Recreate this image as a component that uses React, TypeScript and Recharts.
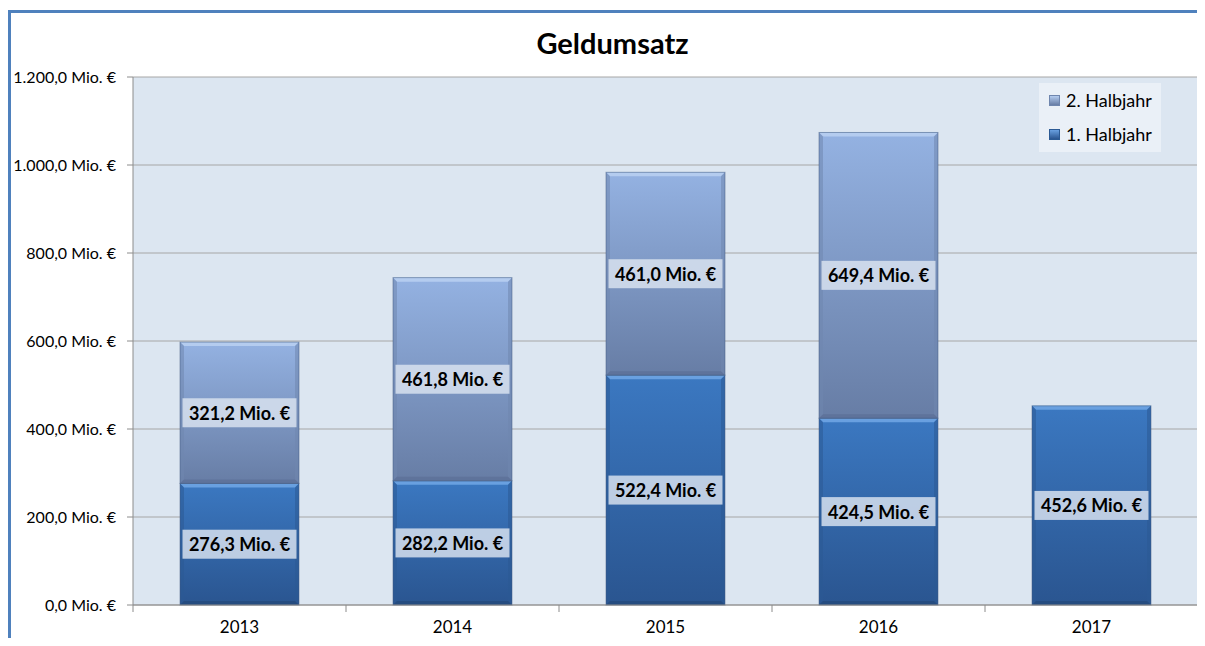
import React from 'react';
import { BarChart, Bar, XAxis, YAxis, CartesianGrid, LabelList } from 'recharts';

const categories = ['2013', '2014', '2015', '2016', '2017'];
const firstHalf = [276.3, 282.2, 522.4, 424.5, 452.6];
const secondHalf: (number | null)[] = [321.2, 461.8, 461.0, 649.4, null];
const yTicks = [0, 200, 400, 600, 800, 1000, 1200];
const seriesNames = ['1. Halbjahr', '2. Halbjahr'];
const titleText = 'Geldumsatz';

const data = categories.map((c, i) => ({ year: c, h1: firstHalf[i], h2: secondHalf[i] }));

const FONT = 'Lato, "Open Sans", sans-serif';

function fmt(v: number): string {
  const fixed = v.toFixed(1);
  const [intPart, dec] = fixed.split('.');
  const withSep = intPart.replace(/\B(?=(\d{3})+(?!\d))/g, '.');
  return `${withSep},${dec} Mio. €`;
}

const palettes: Record<string, { top: string; bottom: string; bevel: string; edge: string; base: string }> = {
  h1: { top: '#3B78C1', bottom: '#2A5590', bevel: '#69A0E0', edge: '#2B5A94', base: '#244A7C' },
  h2: { top: '#94B2E2', bottom: '#677DA5', bevel: '#B4CCEF', edge: '#6F86AE', base: '#5D7198' },
};

const BevelBar = (props: any) => {
  const { x, y, width, height, dataKey } = props;
  if (!height || height <= 0) return null;
  const p = palettes[dataKey];
  const b = 4;
  const id = `grad-${dataKey}`;
  return (
    <g>
      <rect x={x} y={y} width={width} height={height} fill={`url(#${id})`} />
      <polygon
        points={`${x},${y} ${x + width},${y} ${x + width - b},${y + b} ${x + b},${y + b}`}
        fill={p.bevel}
      />
      <polygon
        points={`${x},${y} ${x + b},${y + b} ${x + b},${y + height - b} ${x},${y + height}`}
        fill={p.edge}
        opacity={0.55}
      />
      <polygon
        points={`${x + width},${y} ${x + width - b},${y + b} ${x + width - b},${y + height - b} ${x + width},${y + height}`}
        fill={p.edge}
        opacity={0.55}
      />
      <polygon
        points={`${x},${y + height} ${x + b},${y + height - b} ${x + width - b},${y + height - b} ${x + width},${y + height}`}
        fill={p.base}
        opacity={0.8}
      />
      <rect x={x} y={y} width={width} height={height} fill="none" stroke="#3F5A80" strokeOpacity={0.5} strokeWidth={1} />
    </g>
  );
};

const ValueLabel = (props: any) => {
  const { x, y, width, height, value } = props;
  if (value == null || !height) return null;
  const cx = x + width / 2;
  const cy = y + height / 2;
  const text = fmt(Number(value));
  const w = 114;
  const h = 29;
  return (
    <g>
      <rect x={cx - w / 2} y={cy - h / 2} width={w} height={h} fill="#DCE4F0" fillOpacity={0.82} />
      <text
        x={cx}
        y={cy}
        textAnchor="middle"
        dominantBaseline="central"
        fontFamily={FONT}
        fontWeight={700}
        fontSize={18}
        fill="#000"
      >
        {text}
      </text>
    </g>
  );
};

const CAT_WIDTH = 213;

const XTick = (props: any) => {
  const { x, y, payload, index } = props;
  const last = index === categories.length - 1;
  return (
    <g>
      <line x1={x - CAT_WIDTH / 2} y1={y} x2={x - CAT_WIDTH / 2} y2={y + 7} stroke="#8C8C8C" />
      {last && <line x1={x + CAT_WIDTH / 2} y1={y} x2={x + CAT_WIDTH / 2} y2={y + 7} stroke="#8C8C8C" />}
      <text x={x} y={y + 28} textAnchor="middle" fontFamily={FONT} fontSize={17} fill="#000">
        {payload.value}
      </text>
    </g>
  );
};

export default function App() {
  return (
    <div style={{ position: 'relative', width: 1189, height: 630, fontFamily: FONT }}>
      <svg
        width={1189}
        height={630}
        style={{ position: 'absolute', left: 0, top: 0, pointerEvents: 'none', overflow: 'visible' }}
      >
        <polyline points="1.5,640 1.5,3.5 1197,3.5" fill="none" stroke="#4F81BD" strokeWidth={3} />
      </svg>
      <div
        style={{
          position: 'absolute',
          left: 0,
          top: 17,
          width: 1189,
          textAlign: 'center',
          fontWeight: 700,
          fontSize: 29,
          color: '#000',
          fontFamily: FONT,
          paddingLeft: 20,
          boxSizing: 'border-box',
        }}
      >
        {titleText}
      </div>
      <div style={{ position: 'absolute', left: 0, top: 0 }}>
        <BarChart
          width={1190}
          height={630}
          data={data}
          margin={{ top: 69, right: 0, bottom: 3, left: 0 }}
          barCategoryGap={47}
        >
          <defs>
            <linearGradient id="grad-h1" x1="0" y1="0" x2="0" y2="1">
              <stop offset="0%" stopColor={palettes.h1.top} />
              <stop offset="100%" stopColor={palettes.h1.bottom} />
            </linearGradient>
            <linearGradient id="grad-h2" x1="0" y1="0" x2="0" y2="1">
              <stop offset="0%" stopColor={palettes.h2.top} />
              <stop offset="100%" stopColor={palettes.h2.bottom} />
            </linearGradient>
          </defs>
          <CartesianGrid vertical={false} fill="#DCE6F1" stroke="#A6A6A6" horizontalValues={yTicks} />
          <XAxis
            dataKey="year"
            height={30}
            axisLine={{ stroke: '#8C8C8C' }}
            tickLine={false}
            tickSize={0}
            tickMargin={0}
            interval={0}
            tick={<XTick />}
          />
          <YAxis
            width={125}
            domain={[0, 1200]}
            ticks={yTicks}
            tickFormatter={fmt}
            axisLine={{ stroke: '#8C8C8C' }}
            tickLine={{ stroke: '#8C8C8C' }}
            tickSize={6}
            tickMargin={11}
            tick={{ fontFamily: FONT, fontSize: 16, fill: '#000' }}
          />
          <Bar dataKey="h1" name={seriesNames[0]} stackId="a" shape={<BevelBar />} isAnimationActive={false}>
            <LabelList dataKey="h1" content={<ValueLabel />} />
          </Bar>
          <Bar dataKey="h2" name={seriesNames[1]} stackId="a" shape={<BevelBar />} isAnimationActive={false}>
            <LabelList dataKey="h2" content={<ValueLabel />} />
          </Bar>
        </BarChart>
      </div>
      <div
        style={{
          position: 'absolute',
          left: 1031,
          top: 75,
          width: 122,
          height: 69,
          background: '#EAF0F7',
          fontFamily: FONT,
          fontSize: 18,
          color: '#000',
        }}
      >
        {[
          { name: seriesNames[1], key: 'h2' },
          { name: seriesNames[0], key: 'h1' },
        ].map((it, i) => (
          <div
            key={it.key}
            style={{ position: 'absolute', left: 10, top: 6 + i * 34, height: 22, display: 'flex', alignItems: 'center' }}
          >
            <span
              style={{
                display: 'inline-block',
                width: 9,
                height: 9,
                marginRight: 6,
                background: `linear-gradient(${palettes[it.key].bevel}, ${palettes[it.key].bottom})`,
                border: `1px solid ${palettes[it.key].edge}`,
              }}
            />
            <span>{it.name}</span>
          </div>
        ))}
      </div>
    </div>
  );
}
